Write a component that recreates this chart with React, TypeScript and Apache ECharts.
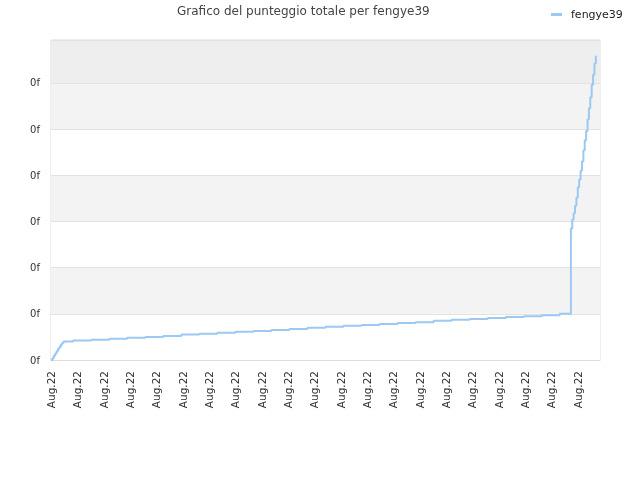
import React, { useEffect, useRef } from "react";
import * as echarts from "echarts";

// x position of each point (time index) and the running total score
const pointIndex = [
  0, 1, 2, 3, 4, 5, 6, 7, 8, 9, 16, 29, 42, 55, 68, 81, 94, 107, 120, 133, 146,
  159, 172, 185, 198, 211, 224, 237, 250, 263, 276, 289, 302, 315, 328, 341,
  354, 367, 375, 376, 377, 378, 379, 380, 381, 382, 383, 384, 385, 386, 387,
  388, 389, 390, 391, 392, 393,
];
const totalScore = [
  0, 0.04, 0.09, 0.14, 0.19, 0.24, 0.28, 0.33, 0.37, 0.4, 0.42, 0.44, 0.46,
  0.48, 0.5, 0.52, 0.55, 0.57, 0.59, 0.61, 0.63, 0.65, 0.67, 0.7, 0.72, 0.74,
  0.76, 0.78, 0.8, 0.82, 0.85, 0.87, 0.89, 0.91, 0.93, 0.95, 0.97, 1.0, 2.85,
  3.04, 3.18, 3.34, 3.52, 3.74, 3.91, 4.1, 4.3, 4.54, 4.76, 4.96, 5.21, 5.45,
  5.69, 5.96, 6.18, 6.42, 6.59,
];
const xTickLabel = "Aug.22";
const yTickLabel = "0f";
const seriesName = "fengye39";

const FONT = "DejaVu Sans";

const App: React.FC = () => {
  const chartRef = useRef<HTMLDivElement>(null);

  useEffect(() => {
    if (!chartRef.current) return;
    const chart = echarts.init(chartRef.current, undefined, { renderer: "svg" });

    chart.setOption({
      animation: false,
      textStyle: { fontFamily: FONT },
      title: {
        text: "Grafico del punteggio totale per fengye39",
        left: 177,
        top: 5,
        padding: 0,
        textStyle: {
          fontFamily: FONT,
          fontSize: 12,
          fontWeight: "normal",
          color: "#444",
        },
      },
      legend: {
        left: 551,
        top: 9,
        padding: 0,
        icon: "rect",
        itemWidth: 11,
        itemHeight: 3,
        data: [seriesName],
        textStyle: {
          fontFamily: FONT,
          fontSize: 11,
          color: "#222",
          padding: [0, 0, 0, 4],
        },
      },
      grid: {
        left: 51,
        right: 40,
        top: 40,
        bottom: 120,
        show: true,
        borderColor: "#dddddd",
        borderWidth: 1,
        outerBoundsMode: "none",
      },
      xAxis: {
        type: "value",
        min: 0,
        max: 396,
        interval: 19,
        axisLine: { show: true, lineStyle: { color: "#dddddd" } },
        axisTick: { show: false },
        splitLine: { show: false },
        axisLabel: {
          rotate: 90,
          margin: 11,
          fontFamily: FONT,
          fontSize: 10.5,
          color: "#333",
          showMaxLabel: false,
          formatter: () => xTickLabel,
        },
      },
      yAxis: {
        type: "value",
        min: 0,
        max: 6.93,
        interval: 1,
        axisLine: { show: false },
        axisTick: { show: false },
        splitLine: { show: true, lineStyle: { color: "#e2e2e2" } },
        splitArea: {
          show: true,
          areaStyle: {
            color: [
              "#ffffff",
              "#f3f3f3",
              "#ffffff",
              "#f3f3f3",
              "#ffffff",
              "#f3f3f3",
              "#eeeeee",
            ],
          },
        },
        axisLabel: {
          margin: 11,
          fontFamily: FONT,
          fontSize: 10,
          color: "#333",
          showMaxLabel: false,
          formatter: () => yTickLabel,
        },
      },
      series: [
        {
          name: seriesName,
          type: "line",
          step: "end",
          showSymbol: false,
          lineStyle: { color: "#9cc8f4", width: 2 },
          itemStyle: { color: "#9cc8f4" },
          data: pointIndex.map((x, i) => [x, totalScore[i]]),
        },
      ],
    });

    return () => {
      chart.dispose();
    };
  }, []);

  return (
    <div
      ref={chartRef}
      style={{ position: "fixed", left: 0, top: 0, width: "640px", height: "480px" }}
    />
  );
};

export default App;
